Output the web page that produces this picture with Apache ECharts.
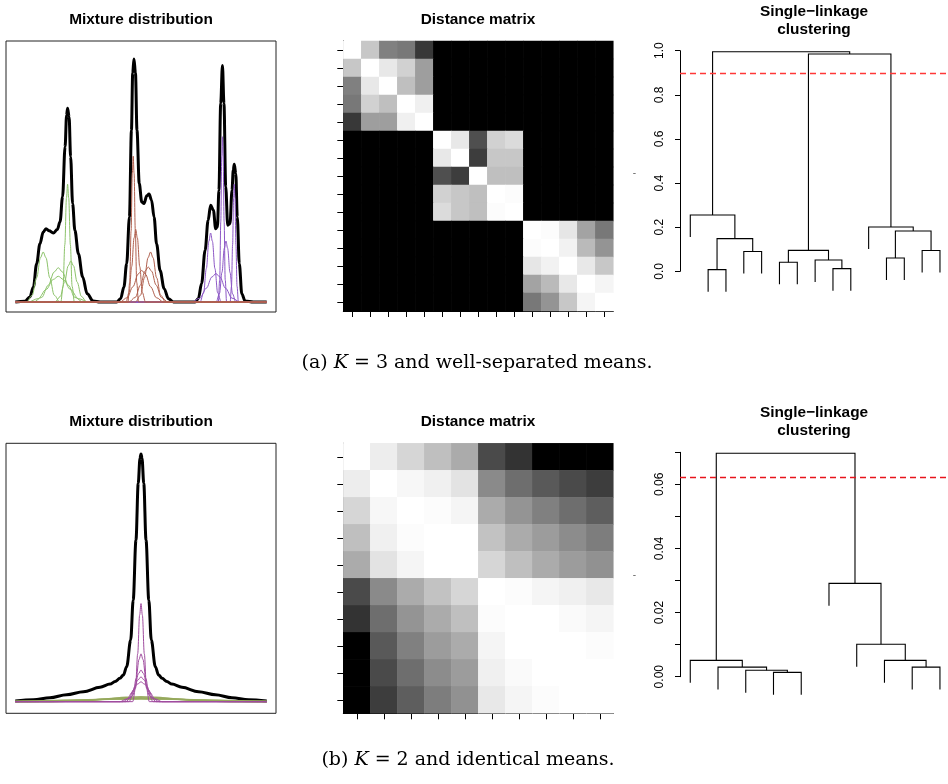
<!DOCTYPE html>
<html>
<head>
<meta charset="utf-8">
<script src="https://cdn.jsdelivr.net/npm/echarts@6/dist/echarts.min.js"></script>
<style>
  html, body { margin: 0; padding: 0; background: #fff; }
  #main { width: 948px; height: 784px; }
</style>
</head>
<body>
<div id="main"></div>
<script>
// ---- (a) mixture: black total density and components (x 0..100, y 0..100) ----
const topTotal = [[0,0],[3.8,0.3],[5.8,2.1],[7.2,6.2],[8.5,15.8],[9.8,24],[11.1,28.8],[12.2,30.2],[13.5,29.3],
  [15.1,28.4],[16.7,29.8],[17.8,33],[18.8,43.3],[19.8,63.9],[20.4,76.9],[20.8,79.7],[21.4,76.2],[22,59.8],
  [22.8,40.5],[23.7,29.5],[25.1,19.9],[26.8,10.3],[28.6,3.4],[31,0.4],[33.7,0],[40.3,0],[41.9,1.4],[43.2,6.2],
  [44.3,15.8],[45.4,35],[46.2,70.7],[46.7,94.2],[47.2,100],[47.8,94.2],[48.4,70.7],[49.3,48.8],[50.3,41.2],
  [51.2,40.5],[52.3,43.7],[53.2,44.4],[54.2,41.9],[55.2,35],[56.2,24],[57.6,13],[59.2,5.5],[60.9,1.4],[62.9,0],
  [71.5,0],[72.8,1.4],[74.1,7.6],[75.5,21.3],[76.7,33.7],[77.7,39.8],[78.8,37.8],[79.7,30.2],[80.4,30.9],
  [81,46],[81.7,81.7],[82.4,97.3],[83,81.7],[83.7,47.4],[84.5,31.6],[85.4,32.3],[86.2,46],[86.7,54.3],
  [87.1,56.7],[87.7,52.9],[88.3,35],[89.1,15.8],[90.1,3.4],[91.4,0.4],[94.7,0],[100,0]];

const topGreen = [
  [[4.5,0],[6.7,2.8],[8.5,10],[10,18.2],[11.1,20.6],[12.2,18.2],[13.7,10],[15.5,2.8],[17.7,0]],
  [[7.2,0],[10.5,1.9],[13.1,6.9],[15.5,12.4],[17.1,14.1],[18.7,12.4],[21.1,6.9],[23.7,1.9],[27,0]],
  [[5.1,0],[9.1,1.4],[12.3,5.2],[15.1,9.3],[17.1,10.6],[19.1,9.3],[21.9,5.2],[25.1,1.4],[29.1,0]],
  [[18.1,0],[19,6.5],[19.7,23.6],[20.35,42.8],[20.8,48.5],[21.25,42.8],[21.9,23.6],[22.6,6.5],[23.5,0]],
  [[15.8,0],[17.9,2.3],[19.6,8.2],[21.05,14.9],[22.1,16.9],[23.15,14.9],[24.6,8.2],[26.3,2.3],[28.4,0]]
];
const topBrown = [
  [[44.8,0],[45.5,8.1],[46.06,29.2],[46.55,52.9],[46.9,60],[47.25,52.9],[47.74,29.2],[48.3,8.1],[49,0]],
  [[44,0],[45.3,4],[46.3,14.6],[47.25,26.4],[47.9,29.9],[48.55,26.4],[49.5,14.6],[50.5,4],[51.8,0]],
  [[41.6,0],[44.5,1.8],[46.8,6.3],[48.85,11.5],[50.3,13],[51.75,11.5],[53.8,6.3],[56.1,1.8],[59,0]],
  [[47.8,0],[49.8,2.8],[51.4,10],[52.8,18.2],[53.8,20.6],[54.8,18.2],[56.2,10],[57.8,2.8],[59.8,0]],
  [[45.1,0],[47.7,1.9],[49.8,7],[51.6,12.7],[52.9,14.4],[54.2,12.7],[56,7],[58.1,1.9],[60.7,0]]
];
const topPurple = [
  [[73.5,0],[74.9,3.8],[76,13.8],[77,25],[77.7,28.4],[78.4,25],[79.4,13.8],[80.5,3.8],[81.9,0]],
  [[70.2,0],[73.4,1.6],[76,5.7],[78.2,10.3],[79.8,11.7],[81.4,10.3],[83.6,5.7],[86.2,1.6],[89.4,0]],
  [[80.75,0],[81.3,9.2],[81.74,33.1],[82.13,60],[82.4,68],[82.68,60],[83.06,33.1],[83.5,9.2],[84.05,0]],
  [[79.9,0],[81.2,3.4],[82.2,12.2],[83.15,22.1],[83.8,25.1],[84.45,22.1],[85.4,12.2],[86.4,3.4],[87.7,0]],
  [[85.45,0],[86,6.5],[86.44,23.6],[86.83,42.8],[87.1,48.5],[87.38,42.8],[87.76,23.6],[88.2,6.5],[88.75,0]]
];

// ---- (b) mixture ----
const botTotal = [[0,0.3],[7.2,0.8],[13.8,1.6],[20.4,2.8],[27.1,4],[33.7,5.8],[37.7,7.1],[39.7,8.1],[41.6,9.4],
  [43,10.8],[44.3,14.1],[45.9,24.9],[46.9,41],[48,65.3],[48.9,88.2],[49.6,98.3],[50,100],[50.4,98.3],[51.1,88.2],
  [52,65.3],[53.1,41],[54.1,24.9],[55.7,14.1],[57,10.8],[58.4,9.4],[60.3,8.1],[62.3,7.1],[66.3,5.8],[72.9,4],
  [79.6,2.8],[86.2,1.6],[92.8,0.8],[100,0.3]];
const botPurple = [
  [[46.7,0],[47.8,5.3],[48.68,19.3],[49.45,34.9],[50,39.6],[50.55,34.9],[51.32,19.3],[52.2,5.3],[53.3,0]],
  [[45.2,0],[46.8,2.6],[48.08,9.4],[49.2,17],[50,19.3],[50.8,17],[51.92,9.4],[53.2,2.6],[54.8,0]],
  [[44,0],[46,1.7],[47.6,6.2],[49,11.3],[50,12.8],[51,11.3],[52.4,6.2],[54,1.7],[56,0]],
  [[42.8,0],[45.2,1.35],[47.12,4.9],[48.8,8.8],[50,10],[51.2,8.8],[52.88,4.9],[54.8,1.35],[57.2,0]],
  [[41.6,0],[44.4,1.1],[46.64,3.9],[48.6,7.1],[50,8],[51.4,7.1],[53.36,3.9],[55.6,1.1],[58.4,0]]
];
const botGreen = [
  [[0,0],[14,0],[26,0.27],[35.6,0.97],[44,1.76],[50,2],[56,1.76],[64.4,0.97],[74,0.27],[86,0],[100,0]],
  [[0,0],[2,0],[18,0.22],[30.8,0.78],[42,1.41],[50,1.6],[58,1.41],[69.2,0.78],[82,0.22],[98,0],[100,0]],
  [[0,0.06],[10,0.18],[26,0.63],[40,1.15],[50,1.3],[60,1.15],[74,0.63],[90,0.18],[100,0.06]],
  [[0,0.15],[10,0.3],[20,0.5],[37.5,0.97],[50,1.1],[62.5,0.97],[80,0.5],[90,0.3],[100,0.15]]
];

// ---- distance matrices (0 = white, 100 = black) ----
const distTop = [
  [0,22,50,53,78,100,100,100,100,100,100,100,100,100,100],
  [22,0,9,18,38,100,100,100,100,100,100,100,100,100,100],
  [50,9,0,25,38,100,100,100,100,100,100,100,100,100,100],
  [53,18,25,0,6,100,100,100,100,100,100,100,100,100,100],
  [78,38,38,6,0,100,100,100,100,100,100,100,100,100,100],
  [100,100,100,100,100,0,9,69,18,14,100,100,100,100,100],
  [100,100,100,100,100,9,0,76,22,22,100,100,100,100,100],
  [100,100,100,100,100,69,76,0,25,25,100,100,100,100,100],
  [100,100,100,100,100,18,22,25,0,1,100,100,100,100,100],
  [100,100,100,100,100,14,22,25,1,0,100,100,100,100,100],
  [100,100,100,100,100,100,100,100,100,100,0,1,10,36,53],
  [100,100,100,100,100,100,100,100,100,100,1,0,5,27,42],
  [100,100,100,100,100,100,100,100,100,100,10,5,0,9,22],
  [100,100,100,100,100,100,100,100,100,100,36,27,9,0,4],
  [100,100,100,100,100,100,100,100,100,100,53,42,22,4,0]
];
const distBot = [
  [0,7,16,25,33,71,80,100,100,100],
  [7,0,3,6,11,46,57,65,71,76],
  [16,3,0,1,4,33,42,50,57,63],
  [25,6,1,0,0,24,33,39,45,51],
  [33,11,4,0,0,16,25,33,39,43],
  [71,46,33,24,16,0,1,4,6,9],
  [80,57,42,33,25,1,0,0,2,4],
  [100,65,50,39,33,4,0,0,0,1],
  [100,71,57,45,39,6,2,0,0,0],
  [100,76,63,51,43,9,4,1,0,0]
];

// ---- single-linkage merges: [childA, childB, height]; negative = leaf position ----
const mergesTop = [
  [-2,-3,0.0075],[-9,-10,0.012],[-6,-7,0.041],[-8,2,0.051],[-12,-13,0.06],[-4,-5,0.09],[-14,-15,0.094],
  [3,4,0.095],[1,6,0.148],[5,7,0.183],[-11,10,0.201],[-1,9,0.255],[8,11,0.985],[12,13,0.995]
];
const mergesBot = [
  [-4,-5,0.00135],[-3,1,0.002],[-2,2,0.003],[-9,-10,0.003],[-1,3,0.0051],[-8,4,0.0051],
  [-7,6,0.0101],[-6,7,0.0291],[5,8,0.0697]
];
const hangTop = 0.1, hangBot = 0.007;
const cutTop = 0.9, cutBot = 0.0622;
const ticksTop = [0, 0.2, 0.4, 0.6, 0.8, 1.0];

function dendroLines(merges, hang) {
  const xs = [];
  const out = [];
  merges.forEach((m, k) => {
    const h = m[2];
    const ends = [m[0], m[1]].map(c => c < 0 ? [-c, h - hang] : [xs[c - 1], merges[c - 1][2]]);
    xs[k] = (ends[0][0] + ends[1][0]) / 2;
    out.push({ coords: [[ends[0][0], ends[0][1]], [ends[0][0], h], [ends[1][0], h], [ends[1][0], ends[1][1]]] });
  });
  return out;
}

function heatData(m) {
  const d = [];
  m.forEach((row, i) => row.forEach((v, j) => d.push([j, i, v])));
  return d;
}

function withBase(pts) {
  const p = pts.slice();
  if (p[0][0] > 0) p.unshift([0, 0]);
  if (p[p.length - 1][0] < 100) p.push([100, 0]);
  return p;
}

const font = 'Liberation Sans';
const chart = echarts.init(document.getElementById('main'));

const series = [];
function curve(pts, gi, color, width, base) {
  series.push({
    type: 'line', xAxisIndex: gi, yAxisIndex: gi, data: base ? withBase(pts) : pts,
    showSymbol: false, smooth: 0.35, smoothMonotone: 'x', silent: true,
    lineStyle: { color: color, width: width }
  });
}
curve(topTotal, 0, '#000', 3, false);
topGreen.forEach(c => curve(c, 0, '#8cc36a', 1, true));
topPurple.forEach(c => curve(c, 0, '#8c57c6', 1, true));
topBrown.forEach(c => curve(c, 0, '#b0604e', 1, true));

curve(botTotal, 3, '#000', 3, false);
botGreen.forEach(c => curve(c, 3, 'rgba(150,168,92,0.9)', 1.6, false));
botPurple.forEach(c => curve(c, 3, '#a04c9f', 1, true));

const hmTopIndex = series.length;
series.push({ type: 'heatmap', xAxisIndex: 1, yAxisIndex: 1, data: heatData(distTop), silent: true });
const hmBotIndex = series.length;
series.push({ type: 'heatmap', xAxisIndex: 4, yAxisIndex: 4, data: heatData(distBot), silent: true });

series.push({
  type: 'lines', coordinateSystem: 'cartesian2d', xAxisIndex: 2, yAxisIndex: 2, polyline: true, clip: false,
  data: dendroLines(mergesTop, hangTop), silent: true, lineStyle: { color: '#000', width: 1.1, opacity: 1 }
});
series.push({
  type: 'lines', coordinateSystem: 'cartesian2d', xAxisIndex: 5, yAxisIndex: 5, polyline: true, clip: false,
  data: dendroLines(mergesBot, hangBot), silent: true, lineStyle: { color: '#000', width: 1.1, opacity: 1 }
});
[[2, cutTop, '#ff3838'], [5, cutBot, '#e8141c']].forEach(([gi, cut, col]) => {
  series.push({
    type: 'line', xAxisIndex: gi, yAxisIndex: gi, data: [], silent: true,
    markLine: { symbol: 'none', silent: true, precision: 6, label: { show: false }, animation: false,
      lineStyle: { color: col, type: [6, 4], width: 1.4 }, data: [{ yAxis: cut }] }
  });
});

const cats15 = Array.from({ length: 15 }, (_, i) => String(i + 1));
const cats10 = Array.from({ length: 10 }, (_, i) => String(i + 1));
const hmAxis = (gi, data, extra) => Object.assign({
  type: 'category', gridIndex: gi, data: data,
  axisLabel: { show: false }, splitLine: { show: false },
  axisLine: { lineStyle: { color: '#000', width: 1 } },
  axisTick: { show: true, alignWithLabel: true, length: 6, lineStyle: { color: '#000' } }
}, extra || {});
const hidden = (gi, min, max) => ({ type: 'value', gridIndex: gi, min: min, max: max, show: false });
// the small dash left of each dendrogram is its (empty-looking) y label, set slightly below the middle
const dendroY = (gi, max, interval, fmt, lh) => ({
  type: 'value', gridIndex: gi, min: 0, max: max, interval: interval,
  name: '\n-', nameLocation: 'middle', nameRotate: 0, nameGap: 44,
  nameTextStyle: { color: '#666', fontSize: 10, fontFamily: font, lineHeight: lh },
  splitLine: { show: false },
  axisLine: { show: true, lineStyle: { color: '#000' } },
  axisTick: { show: true, length: 5, lineStyle: { color: '#000' } },
  axisLabel: { rotate: 90, margin: 14, color: '#000', fontSize: 12, fontFamily: font, formatter: fmt }
});

const titleStyle = { fontFamily: font, fontSize: 15.4, fontWeight: 'bold', color: '#000', lineHeight: 18 };
const capRich = {
  r: { fontFamily: 'DejaVu Serif', fontSize: 19, fontWeight: 'normal', color: '#000', lineHeight: 22 },
  i: { fontFamily: 'DejaVu Serif', fontSize: 19, fontWeight: 'normal', fontStyle: 'italic', color: '#000', lineHeight: 22 }
};
const mkTitle = (text, x, y) => ({ text: text, left: x, top: y, padding: 0, textAlign: 'center', textStyle: titleStyle });
const mkCaption = (text, x, y) => ({ text: text, left: x, top: y, padding: 0, textAlign: 'center',
  textStyle: { fontWeight: 'normal', rich: capRich } });

chart.setOption({
  animation: false,
  backgroundColor: '#fff',
  title: [
    mkTitle('Mixture distribution', 141, 11),
    mkTitle('Distance matrix', 478, 11),
    mkTitle('Single\u2212linkage\nclustering', 814, 3),
    mkTitle('Mixture distribution', 141, 413),
    mkTitle('Distance matrix', 478, 413),
    mkTitle('Single\u2212linkage\nclustering', 814, 404),
    mkCaption('{r|(a) }{i|K}{r| = 3 and well-separated means.}', 477, 352),
    mkCaption('{r|(b) }{i|K}{r| = 2 and identical means.}', 468, 749)
  ],
  grid: [
    { left: 6, top: 41, width: 270, height: 271, show: true, borderColor: '#222', borderWidth: 1 },
    { left: 343.3, top: 41, width: 270, height: 270 },
    { left: 680, top: 50.7, width: 268, height: 220.6 },
    { left: 6, top: 443.3, width: 270, height: 270, show: true, borderColor: '#222', borderWidth: 1 },
    { left: 343.3, top: 443.3, width: 270, height: 270 },
    { left: 680, top: 452.3, width: 268, height: 224.4 }
  ],
  xAxis: [
    hidden(0, -3.7, 103.7),
    hmAxis(1, cats15),
    hidden(2, 0.423, 15.45),
    hidden(3, -3.7, 103.7),
    hmAxis(4, cats10),
    hidden(5, 0.63, 10.29)
  ],
  yAxis: [
    hidden(0, -4.1, 107.4),
    hmAxis(1, cats15, { inverse: true }),
    dendroY(2, 1, 0.2, v => ticksTop.indexOf(Math.round(v * 10) / 10) >= 0 ? v.toFixed(1) : '', 24),
    hidden(3, -4.7, 104.3),
    hmAxis(4, cats10, { inverse: true }),
    dendroY(5, 0.07, 0.01, v => Math.round(v * 100) % 2 === 0 ? v.toFixed(2) : '', 21)
  ],
  visualMap: [
    { show: false, seriesIndex: hmTopIndex, min: 0, max: 100, inRange: { color: ['#ffffff', '#000000'] } },
    { show: false, seriesIndex: hmBotIndex, min: 0, max: 100, inRange: { color: ['#ffffff', '#000000'] } }
  ],
  series: series
});
</script>
</body>
</html>
